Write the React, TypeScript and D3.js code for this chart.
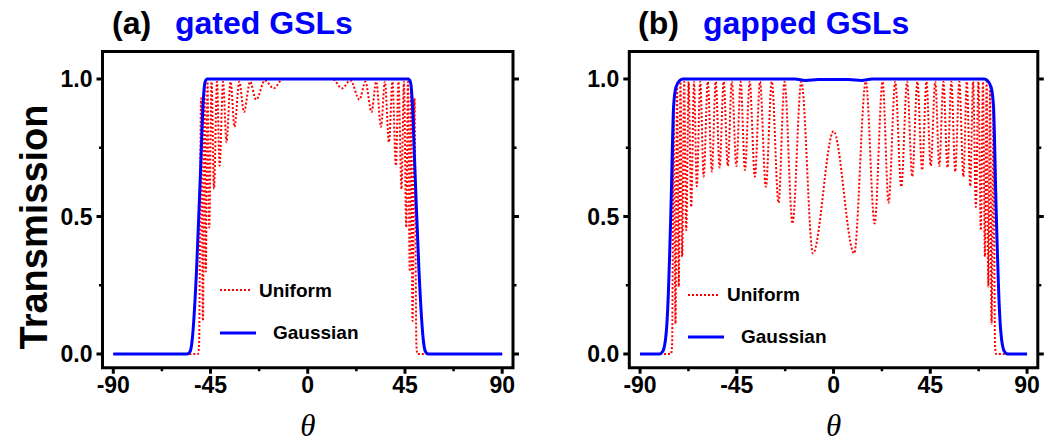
import React from "react";
import * as d3 from "d3";

// ---------- data ----------
const xTicks = [-90, -45, 0, 45, 90];
const xMinorTicks = [-67.5, -22.5, 22.5, 67.5];
const yTicks = [0, 0.5, 1];
const yMinorTicks = [0.25, 0.75];
const yTickLabels = ["0.0", "0.5", "1.0"];

const panelLetters = ["(a)", "(b)"];
const panelTitles = ["gated GSLs", "gapped GSLs"];
const seriesNames = ["Uniform", "Gaussian"];

// Panel (a): Uniform (theta, T)
const uniformA: [number, number][] = [
  [-90, 0], [-50.8, 0], [-50.3, 0.03], [-49.4, 0.93], [-48.5, 0.12], [-47.8, 0.97],
  [-47.2, 0.3], [-46.4, 0.99], [-45.6, 0.46], [-44.5, 0.99], [-43.4, 0.6],
  [-42.0, 0.99], [-40.8, 0.685], [-39.2, 0.99], [-37.6, 0.77], [-35.7, 0.99],
  [-33.9, 0.826], [-31.7, 0.99], [-29.5, 0.88], [-26.7, 0.99], [-23.9, 0.925],
  [-19.8, 0.995], [-15.8, 0.966], [-11.5, 1], [11.5, 1], [15.8, 0.966],
  [19.8, 0.995], [23.9, 0.925], [26.7, 0.99], [29.5, 0.88], [31.7, 0.99],
  [33.9, 0.826], [35.7, 0.99], [37.6, 0.77], [39.2, 0.99], [40.8, 0.685],
  [42.0, 0.99], [43.4, 0.6], [44.5, 0.99], [45.6, 0.46], [46.4, 0.99],
  [47.2, 0.3], [47.8, 0.97], [48.5, 0.12], [49.4, 0.93], [50.3, 0.03], [50.8, 0], [90, 0],
];

// Panel (a): Gaussian
const gaussianA: [number, number][] = [
  [-90, 0], [-55.8, 0], [-54.4, 0.01], [-53.5, 0.05], [-51.5, 0.3], [-49.7, 0.65],
  [-48.3, 0.93], [-47.5, 0.99], [-46.5, 1], [46.5, 1], [47.5, 0.99], [48.3, 0.93],
  [49.7, 0.65], [51.5, 0.3], [53.5, 0.05], [54.4, 0.01], [55.8, 0], [90, 0],
];

// Panel (b): Uniform
const uniformB: [number, number][] = [
  [-90, 0], [-75.6, 0], [-75.1, 0.03], [-74.4, 0.89], [-73.5, 0.11], [-72.8, 0.97],
  [-72.0, 0.245], [-71.2, 0.99], [-70.4, 0.354], [-69.5, 0.99], [-68.5, 0.45],
  [-67.4, 0.99], [-66.2, 0.535], [-64.9, 0.99], [-63.6, 0.61], [-62.0, 0.99],
  [-60.4, 0.645], [-58.5, 0.99], [-56.6, 0.663], [-54.8, 0.99], [-53.0, 0.678],
  [-51.1, 0.99], [-49.2, 0.684], [-47.3, 0.99], [-45.2, 0.684], [-43.2, 0.99],
  [-41.2, 0.669], [-39.0, 0.99], [-36.6, 0.645], [-34.2, 0.99], [-31.5, 0.608],
  [-28.7, 0.99], [-25.6, 0.55], [-22.8, 0.99], [-19.1, 0.475], [-15.0, 0.99],
  [-9.6, 0.366], [0, 0.81], [9.6, 0.366], [15.0, 0.99], [19.1, 0.475],
  [22.8, 0.99], [25.6, 0.55], [28.7, 0.99], [31.5, 0.608], [34.2, 0.99],
  [36.6, 0.645], [39.0, 0.99], [41.2, 0.669], [43.2, 0.99], [45.2, 0.684],
  [47.3, 0.99], [49.2, 0.684], [51.1, 0.99], [53.0, 0.678], [54.8, 0.99],
  [56.6, 0.663], [58.5, 0.99], [60.4, 0.645], [62.0, 0.99], [63.6, 0.61],
  [64.9, 0.99], [66.2, 0.535], [67.4, 0.99], [68.5, 0.45], [69.5, 0.99],
  [70.4, 0.354], [71.2, 0.99], [72.0, 0.245], [72.8, 0.97], [73.5, 0.11],
  [74.4, 0.89], [75.1, 0.03], [75.6, 0], [90, 0],
];

// Panel (b): Gaussian
const gaussianB: [number, number][] = [
  [-90, 0], [-81.0, 0], [-79.4, 0.01], [-77.8, 0.08], [-77.1, 0.17], [-75.6, 0.535],
  [-74.4, 0.9], [-73.3, 0.97], [-71.5, 0.995], [-70, 1], [-18, 1], [-13, 0.995],
  [-7, 0.998], [0, 0.998], [7, 0.998], [13, 0.995], [18, 1], [70, 1],
  [71.5, 0.995], [73.3, 0.97], [74.4, 0.9], [75.6, 0.535], [77.1, 0.17],
  [77.8, 0.08], [79.4, 0.01], [81.0, 0], [90, 0],
];

const uniformSeries = [uniformA, uniformB];
const gaussianSeries = [gaussianA, gaussianB];

// ---------- layout ----------
const W = 1047;
const H = 446;
const frames = [
  { left: 102.5, right: 513 },
  { left: 629.3, right: 1037.8 },
];
const TOP = 51.5;
const BOTTOM = 367.75;
const FONT = "'Liberation Sans', Arial, Helvetica, sans-serif";
const RED = "#ff0000";
const BLUE = "#0000ff";

function Panel({ i }: { i: number }) {
  const f = frames[i];
  const x = d3.scaleLinear().domain([-95, 95]).range([f.left, f.right]);
  const y = d3.scaleLinear().domain([-0.05, 1.1]).range([BOTTOM, TOP]);
  const line = d3
    .line<[number, number]>()
    .x((d) => x(d[0]))
    .y((d) => y(d[1]))
    .curve(d3.curveMonotoneX);

  const legendRows = [
    { yLine: i === 0 ? 290 : 295, yText: i === 0 ? 297 : 301, dash: true, len: 32, tx: 39 },
    { yLine: i === 0 ? 333 : 337, yText: i === 0 ? 339 : 343, dash: false, len: 36, tx: 53 },
  ];
  const legStart = i === 0 ? 220 : 688;

  return (
    <g>
      <clipPath id={`clip${i}`}>
        <rect x={f.left} y={TOP} width={f.right - f.left} height={BOTTOM - TOP} />
      </clipPath>
      <g clipPath={`url(#clip${i})`}>
        <path d={line(uniformSeries[i]) || ""} fill="none" stroke={RED} strokeWidth={2} strokeDasharray="2 2" />
        <path d={line(gaussianSeries[i]) || ""} fill="none" stroke={BLUE} strokeWidth={3} strokeLinejoin="round" />
      </g>
      {/* frame */}
      <rect x={f.left} y={TOP} width={f.right - f.left} height={BOTTOM - TOP} fill="none" stroke="#000" strokeWidth={3} />
      {/* x ticks */}
      {xTicks.map((t) => (
        <line key={`xt${t}`} x1={x(t)} x2={x(t)} y1={BOTTOM} y2={BOTTOM + 6} stroke="#000" strokeWidth={3} />
      ))}
      {xMinorTicks.map((t) => (
        <line key={`xm${t}`} x1={x(t)} x2={x(t)} y1={BOTTOM} y2={BOTTOM + 3.5} stroke="#000" strokeWidth={2.5} />
      ))}
      {xTicks.map((t) => (
        <text key={`xl${t}`} x={x(t)} y={393} textAnchor="middle" fontFamily={FONT} fontWeight="bold" fontSize={23}>
          {t}
        </text>
      ))}
      {/* y ticks */}
      {yTicks.map((t) => (
        <g key={`yt${t}`}>
          <line x1={f.left - 6} x2={f.left} y1={y(t)} y2={y(t)} stroke="#000" strokeWidth={3} />
          <line x1={f.right} x2={f.right + 6} y1={y(t)} y2={y(t)} stroke="#000" strokeWidth={3} />
        </g>
      ))}
      {yMinorTicks.map((t) => (
        <g key={`ym${t}`}>
          <line x1={f.left - 3.5} x2={f.left} y1={y(t)} y2={y(t)} stroke="#000" strokeWidth={2.5} />
          <line x1={f.right} x2={f.right + 3.5} y1={y(t)} y2={y(t)} stroke="#000" strokeWidth={2.5} />
        </g>
      ))}
      {yTicks.map((t, k) => (
        <text key={`yl${t}`} x={f.left - 10} y={y(t) + 8} textAnchor="end" fontFamily={FONT} fontWeight="bold" fontSize={23}>
          {yTickLabels[k]}
        </text>
      ))}
      {/* x label */}
      <text x={x(0)} y={436} textAnchor="middle" fontFamily="'Liberation Serif', 'Times New Roman', serif" fontStyle="italic" fontSize={31}>
        θ
      </text>
      {/* title */}
      <text x={i === 0 ? 112 : 638} y={34} fontFamily={FONT} fontWeight="bold" fontSize={32} fill="#000">
        {panelLetters[i]}
      </text>
      <text x={i === 0 ? 175 : 703} y={34} fontFamily={FONT} fontWeight="bold" fontSize={32} fill={BLUE}>
        {panelTitles[i]}
      </text>
      {/* legend */}
      {legendRows.map((r, k) => (
        <g key={`lg${k}`}>
          <line
            x1={legStart}
            x2={legStart + r.len}
            y1={r.yLine}
            y2={r.yLine}
            stroke={r.dash ? RED : BLUE}
            strokeWidth={r.dash ? 2 : 3}
            strokeDasharray={r.dash ? "2 2" : undefined}
          />
          <text x={legStart + r.tx} y={r.yText} fontFamily={FONT} fontWeight="bold" fontSize={19}>
            {seriesNames[k]}
          </text>
        </g>
      ))}
    </g>
  );
}

export default function App() {
  return (
    <svg width={W} height={H} style={{ position: "absolute", left: 0, top: 0, background: "#fff" }}>
      <rect x={0} y={0} width={W} height={H} fill="#fff" />
      <text
        transform="translate(47,227) rotate(-90)"
        textAnchor="middle"
        fontFamily={FONT}
        fontWeight="bold"
        fontSize={38}
      >
        Transmission
      </text>
      <Panel i={0} />
      <Panel i={1} />
    </svg>
  );
}
